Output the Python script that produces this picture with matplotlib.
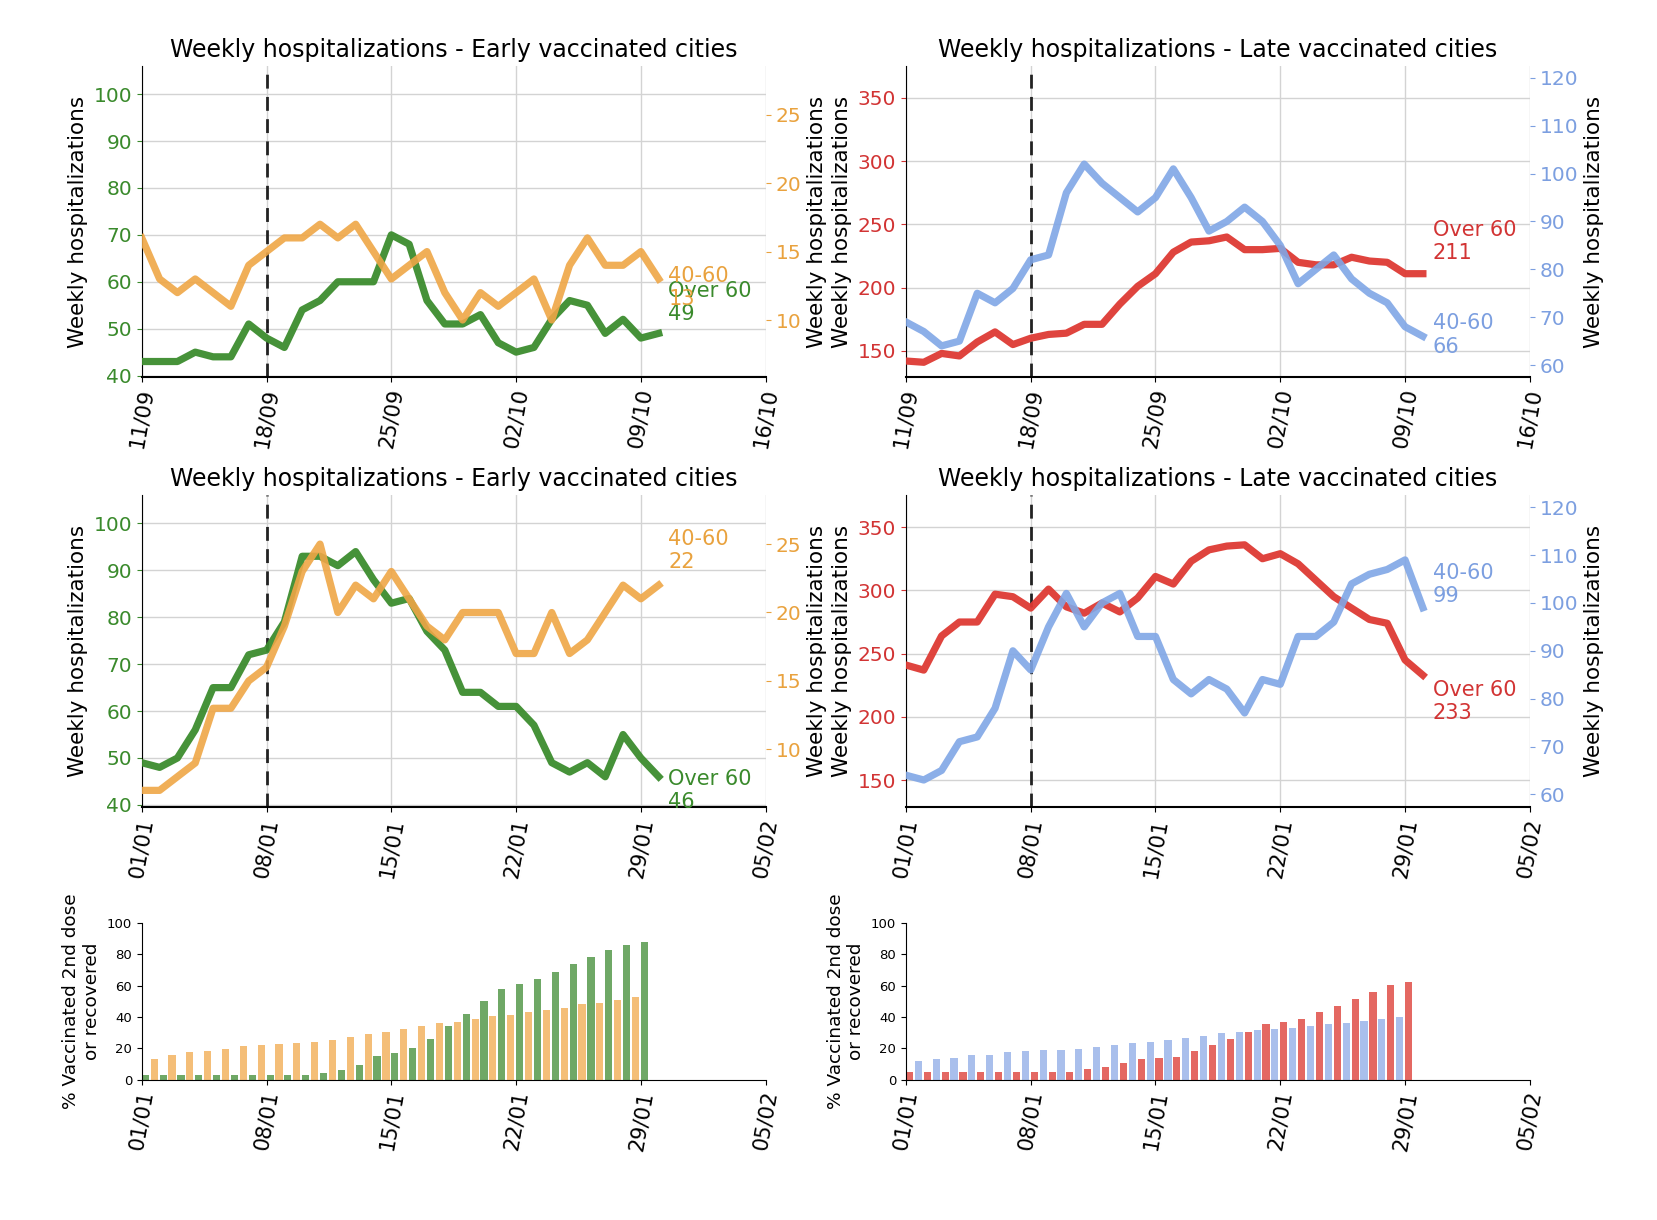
import numpy as np
import pandas as pd
import matplotlib
matplotlib.use('Agg')
import matplotlib.pyplot as plt
import matplotlib.dates as mdates

# ---------------- data ----------------
sep_dates = pd.date_range('2021-09-11', periods=30, freq='D')
jan_dates = pd.date_range('2021-01-01', periods=30, freq='D')
sep_ticks = pd.to_datetime(['2021-09-11', '2021-09-18', '2021-09-25', '2021-10-02', '2021-10-09', '2021-10-16'])
sep_ticklabels = ['11/09', '18/09', '25/09', '02/10', '09/10', '16/10']
jan_ticks = pd.to_datetime(['2021-01-01', '2021-01-08', '2021-01-15', '2021-01-22', '2021-01-29', '2021-02-05'])
jan_ticklabels = ['01/01', '08/01', '15/01', '22/01', '29/01', '05/02']
sep_vline = pd.Timestamp('2021-09-18')
jan_vline = pd.Timestamp('2021-01-08')

early_sep_over60 = [43, 43, 43, 45, 44, 44, 51, 48, 46, 54, 56, 60, 60, 60, 70, 68, 56, 51, 51, 53,
                    47, 45, 46, 52, 56, 55, 49, 52, 48, 49]
early_sep_4060 = [16, 13, 12, 13, 12, 11, 14, 15, 16, 16, 17, 16, 17, 15, 13, 14, 15, 12, 10, 12,
                  11, 12, 13, 10, 14, 16, 14, 14, 15, 13]
late_sep_over60 = [142, 141, 148, 146, 157, 165, 155, 160, 163, 164, 171, 171, 187, 201, 211, 228, 236, 237, 240, 230,
                   230, 231, 220, 218, 218, 224, 221, 220, 211, 211]
late_sep_4060 = [69, 67, 64, 65, 75, 73, 76, 82, 83, 96, 102, 98, 95, 92, 95, 101, 95, 88, 90, 93,
                 90, 85, 77, 80, 83, 78, 75, 73, 68, 66]

early_jan_over60 = [49, 48, 50, 56, 65, 65, 72, 73, 79, 93, 93, 91, 94, 88, 83, 84, 77, 73, 64, 64,
                    61, 61, 57, 49, 47, 49, 46, 55, 50, 46]
early_jan_4060 = [7, 7, 8, 9, 13, 13, 15, 16, 19, 23, 25, 20, 22, 21, 23, 21, 19, 18, 20, 20,
                  20, 17, 17, 20, 17, 18, 20, 22, 21, 22]
late_jan_over60 = [241, 237, 264, 275, 275, 297, 295, 286, 301, 287, 282, 290, 283, 294, 311, 305, 323, 332, 335, 336,
                   325, 329, 321, 308, 295, 286, 277, 274, 245, 233]
late_jan_4060 = [64, 63, 65, 71, 72, 78, 90, 86, 95, 102, 95, 100, 102, 93, 93, 84, 81, 84, 82, 77,
                 84, 83, 93, 93, 96, 104, 106, 107, 109, 99]

# % vaccinated 2nd dose or recovered
early_vacc_over60 = [3, 3, 3, 3, 3, 3, 3, 3, 3, 3, 4, 6, 9.5, 15, 17, 20, 26, 34, 42, 50,
                     58, 61, 64, 69, 74, 78, 83, 86, 88]
early_vacc_4060 = [13, 15.5, 17.5, 18.5, 19.5, 21.5, 22, 23, 23.5, 24, 25.5, 27.5, 29, 30.5, 32.5, 34, 36, 37, 39, 40.5,
                   41.5, 43, 44.5, 46, 48, 49, 51, 52.5]
late_vacc_over60 = [5, 5, 5, 5, 5, 5, 5, 5, 5, 5, 6.5, 8, 10.5, 13, 14, 14.5, 18, 22, 26, 30.5,
                    35.5, 37, 39, 43, 47, 51.5, 56, 60.5, 62.5]
late_vacc_4060 = [12, 13, 14, 15.5, 16, 17.5, 18.5, 19, 19, 19.5, 21, 22, 23.5, 24, 25, 26.5, 28, 29.5, 30.5, 31.5,
                  32.5, 33, 34, 35.5, 36, 37.5, 38.5, 40]

# ---------------- styles ----------------
GREEN = '#3c8c2e'
ORANGE = '#efa646'
RED = '#de3a33'
BLUE = '#80a6e6'
GREEN_T = '#3a8a2c'
ORANGE_T = '#e9a23e'
RED_T = '#d23434'
BLUE_T = '#7c9fe0'
GREEN_B = '#6fa866'
ORANGE_B = '#f4be78'
RED_B = '#e46862'
BLUE_B = '#a9bfec'

fig = plt.figure(figsize=(16.58, 12.2), dpi=100)

W = 0.3763
LX = 0.0855
RX = 0.5464
H = 0.2557
Y_TOP = 0.6906
Y_MID = 0.3387
Y_BAR = 0.1151
H_BAR = 0.1283

TICK_FS = 14.5
XTICK_FS = 15
ANN_FS = 15
LABEL_FS = 15.5
TITLE_FS = 17


def line_panel(rect, dates, over60, young, c_over, c_young, tc_over, tc_young,
               ylim_l, yticks_l, ylim_r, yticks_r, ticks, ticklabels, vline, title,
               off_over, off_young):
    ax = fig.add_axes(rect)
    ax.plot(dates, over60, color=c_over, lw=5.2, alpha=0.95, zorder=3)
    ax.set_ylim(*ylim_l)
    ax.set_yticks(yticks_l)
    ax.tick_params(axis='y', colors=tc_over, labelsize=TICK_FS)
    ax.tick_params(axis='x', labelsize=XTICK_FS)
    ax.set_ylabel('Weekly hospitalizations', fontsize=LABEL_FS)
    ax.grid(True, color='#d3d3d3', lw=1)
    ax.set_axisbelow(True)
    ax.axvline(vline, color='#222222', ls='--', lw=2, dashes=(5, 3))
    ax.set_xlim(ticks[0], ticks[-1])
    ax.set_xticks(ticks)
    ax.set_xticklabels(ticklabels, rotation=80)
    ax.spines['top'].set_visible(False)
    ax.spines['right'].set_visible(False)
    ax.spines['bottom'].set_linewidth(1.5)
    ax.set_title(title, fontsize=TITLE_FS)

    ax2 = ax.twinx()
    ax2.plot(dates, young, color=c_young, lw=5.2, alpha=0.9)
    ax2.set_ylim(*ylim_r)
    ax2.set_yticks(yticks_r)
    ax2.tick_params(axis='y', colors=tc_young, labelsize=TICK_FS)
    ax2.set_ylabel('Weekly hospitalizations', fontsize=LABEL_FS)
    for s in ['top', 'right', 'left', 'bottom']:
        ax2.spines[s].set_visible(False)

    ax.annotate(f'Over 60\n{over60[-1]}', xy=(dates[-1], over60[-1]), xytext=off_over,
                textcoords='offset points', color=tc_over, fontsize=ANN_FS,
                ha='left', va='center', annotation_clip=False)
    ax2.annotate(f'40-60\n{young[-1]}', xy=(dates[-1], young[-1]), xytext=off_young,
                 textcoords='offset points', color=tc_young, fontsize=ANN_FS,
                 ha='left', va='center', annotation_clip=False)
    return ax, ax2


early_title = 'Weekly hospitalizations - Early vaccinated cities'
late_title = 'Weekly hospitalizations - Late vaccinated cities'

yl_early = (39.6, 106.1)
yt_early = [40, 50, 60, 70, 80, 90, 100]
yr_early = (5.8, 28.6)
ytr_early = [10, 15, 20, 25]
yl_late = (129, 375.5)
yt_late = [150, 200, 250, 300, 350]
yr_late = (57.4, 122.6)
ytr_late = [60, 70, 80, 90, 100, 110, 120]

line_panel([LX, Y_TOP, W, H], sep_dates, early_sep_over60, early_sep_4060, GREEN, ORANGE, GREEN_T, ORANGE_T,
           yl_early, yt_early, yr_early, ytr_early, sep_ticks, sep_ticklabels, sep_vline, early_title,
           (7, 22), (7, -6))
line_panel([RX, Y_TOP, W, H], sep_dates, late_sep_over60, late_sep_4060, RED, BLUE, RED_T, BLUE_T,
           yl_late, yt_late, yr_late, ytr_late, sep_ticks, sep_ticklabels, sep_vline, late_title,
           (7, 23), (7, 1))
line_panel([LX, Y_MID, W, H], jan_dates, early_jan_over60, early_jan_4060, GREEN, ORANGE, GREEN_T, ORANGE_T,
           yl_early, yt_early, yr_early, ytr_early, jan_ticks, jan_ticklabels, jan_vline, early_title,
           (7, -10), (7, 25))
line_panel([RX, Y_MID, W, H], jan_dates, late_jan_over60, late_jan_4060, RED, BLUE, RED_T, BLUE_T,
           yl_late, yt_late, yr_late, ytr_late, jan_ticks, jan_ticklabels, jan_vline, late_title,
           (7, -19), (7, 17))


def bar_panel(rect, dates, over60, young, c_over, c_young, ticks, ticklabels):
    ax = fig.add_axes(rect)
    x_over = mdates.date2num(dates[:len(over60)])
    x_young = mdates.date2num(dates[:len(young)]) + 0.5
    ax.bar(x_over, over60, width=0.4, align='edge', color=c_over)
    ax.bar(x_young, young, width=0.4, align='edge', color=c_young)
    tnum = mdates.date2num(ticks)
    ax.set_xlim(tnum[0], tnum[-1])
    ax.set_xticks(tnum)
    ax.set_xticklabels(ticklabels, rotation=80, fontsize=XTICK_FS)
    ax.set_ylim(0, 100)
    ax.set_yticks([0, 20, 40, 60, 80, 100])
    ax.tick_params(axis='y', labelsize=9.5)
    ax.set_ylabel('% Vaccinated 2nd dose\nor recovered', fontsize=13.3)
    ax.spines['top'].set_visible(False)
    ax.spines['right'].set_visible(False)
    return ax


bar_panel([LX, Y_BAR, W, H_BAR], jan_dates, early_vacc_over60, early_vacc_4060, GREEN_B, ORANGE_B,
          jan_ticks, jan_ticklabels)
bar_panel([RX, Y_BAR, W, H_BAR], jan_dates, late_vacc_over60, late_vacc_4060, RED_B, BLUE_B,
          jan_ticks, jan_ticklabels)

fig.savefig('out.png', dpi=100)
